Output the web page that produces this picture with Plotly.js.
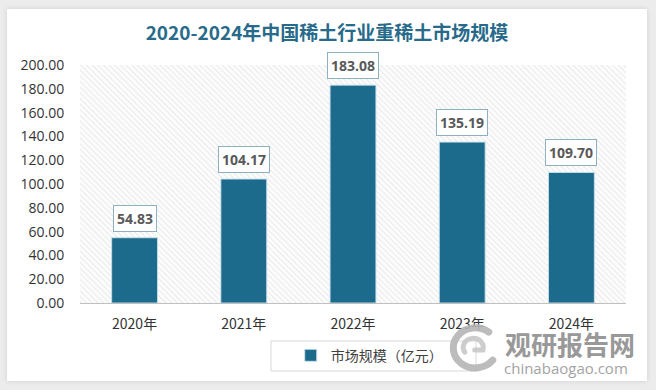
<!DOCTYPE html>
<html>
<head>
<meta charset="utf-8">
<script src="https://cdn.plot.ly/plotly-3.0.1.min.js"></script>
<style>
  html, body { margin: 0; padding: 0; width: 656px; height: 390px; background: #ececec; overflow: hidden; }
  #card { position: absolute; left: 7px; top: 9px; width: 640px; height: 372px; background: #fff; box-shadow: 0 0 5px rgba(0,0,0,0.12); }
</style>
</head>
<body>
<div id="card"></div>
<script>
const categories = ['2020年', '2021年', '2022年', '2023年', '2024年'];
const values = [54.83, 104.17, 183.08, 135.19, 109.70];
const yTicks = [0, 20, 40, 60, 80, 100, 120, 140, 160, 180, 200];
const seriesName = '市场规模（亿元）';
const titleText = '2020-2024年中国稀土行业重稀土市场规模';

const hatch = "<svg xmlns='http://www.w3.org/2000/svg' width='546' height='238'>" +
  "<defs><pattern id='p' width='4' height='4' patternUnits='userSpaceOnUse' patternTransform='rotate(-45)'>" +
  "<line x1='0' y1='0' x2='0' y2='4' stroke='#e0e0e0' stroke-width='1.3'/></pattern></defs>" +
  "<rect width='100%' height='100%' fill='#fcfcfc'/><rect width='100%' height='100%' fill='url(#p)'/></svg>";

const logo = "<svg xmlns='http://www.w3.org/2000/svg' width='60' height='53' viewBox='0 0 60 53'>" +
  "<path d='M44 10 A22 20 0 1 0 48 38' fill='none' stroke='#b5b5b5' stroke-width='7' stroke-linecap='round'/>" +
  "<path d='M20 30 A10 9 0 1 1 38 28 L30 28' fill='none' stroke='#c8c8c8' stroke-width='5' stroke-linecap='round'/>" +
  "</svg>";

const trace = {
  type: 'bar',
  x: categories,
  y: values,
  name: seriesName,
  width: 0.42,
  marker: { color: '#1c6a8c', line: { color: 'rgba(200,225,235,0.9)', width: 1 } },
  hoverinfo: 'x+y'
};

const annotations = categories.map((c, i) => ({
  x: c, y: values[i], xref: 'x', yref: 'y',
  text: '<b>' + values[i].toFixed(2) + '</b>',
  showarrow: false, yanchor: 'bottom', yshift: 6,
  font: { family: 'Open Sans, sans-serif', size: 14, color: '#595959' },
  bgcolor: '#ffffff', bordercolor: '#8fb0c0', borderwidth: 1, borderpad: 3
}));

annotations.push({
  xref: 'paper', yref: 'paper', x: 0.897, y: -0.17,
  text: '<b>观研报告网</b>', showarrow: false, xanchor: 'center', yanchor: 'middle',
  font: { family: 'Noto Sans CJK SC, sans-serif', size: 26, color: '#8e8e8e' }, opacity: 0.9
});
annotations.push({
  xref: 'paper', yref: 'paper', x: 0.89, y: -0.275,
  text: 'chinabaogao.com', showarrow: false, xanchor: 'center', yanchor: 'middle',
  font: { family: 'Open Sans, sans-serif', size: 15, color: '#9a9a9a' }, opacity: 0.9
});

const layout = {
  width: 640, height: 372,
  margin: { l: 73, r: 21, t: 56, b: 78 },
  paper_bgcolor: '#ffffff',
  plot_bgcolor: 'rgba(0,0,0,0)',
  title: {
    text: '<b>' + titleText + '</b>',
    x: 0.5, xref: 'container', xanchor: 'center',
    y: 0.935, yref: 'container', yanchor: 'middle',
    font: { family: 'Noto Sans CJK SC, sans-serif', size: 19, color: '#276a8a' }
  },
  xaxis: {
    type: 'category',
    showgrid: false, zeroline: false,
    showline: true, linecolor: '#c0c0c0', linewidth: 1,
    ticks: 'outside', ticklen: 8, tickcolor: 'rgba(0,0,0,0)',
    tickfont: { family: 'Noto Sans CJK SC, sans-serif', size: 14, color: '#333333' }
  },
  yaxis: {
    range: [0, 200],
    tickvals: yTicks,
    ticktext: yTicks.map(v => v.toFixed(2)),
    showgrid: false, zeroline: false, showline: false,
    ticks: 'outside', ticklen: 12, tickcolor: 'rgba(0,0,0,0)',
    tickfont: { family: 'Open Sans, sans-serif', size: 14, color: '#333333' }
  },
  showlegend: true,
  legend: {
    orientation: 'h', xref: 'container', yref: 'container',
    x: 0.566, xanchor: 'center', y: 0.068, yanchor: 'middle',
    borderwidth: 0, bgcolor: 'rgba(0,0,0,0)',
    font: { family: 'Noto Sans CJK SC, sans-serif', size: 14, color: '#404040' }
  },
  shapes: [
    { type: 'rect', xref: 'paper', yref: 'paper',
      x0: 0.3498, x1: 0.7253, y0: -0.2857, y1: -0.1597,
      line: { color: '#d9d9d9', width: 1 }, fillcolor: 'rgba(0,0,0,0)', layer: 'below' }
  ],
  images: [
    { source: 'data:image/svg+xml;charset=utf-8,' + encodeURIComponent(hatch),
      xref: 'paper', yref: 'paper', x: 0, y: 1, sizex: 1, sizey: 1,
      sizing: 'stretch', xanchor: 'left', yanchor: 'top', layer: 'below' },
    { source: 'data:image/svg+xml;charset=utf-8,' + encodeURIComponent(logo),
      xref: 'paper', yref: 'paper', x: 0.668, y: -0.08, sizex: 0.11, sizey: 0.223,
      sizing: 'stretch', xanchor: 'left', yanchor: 'top', layer: 'above', opacity: 0.9 }
  ],
  annotations: annotations,
  bargap: 0.58
};

Plotly.newPlot('card', [trace], layout, { displayModeBar: false, staticPlot: true });
</script>
</body>
</html>
